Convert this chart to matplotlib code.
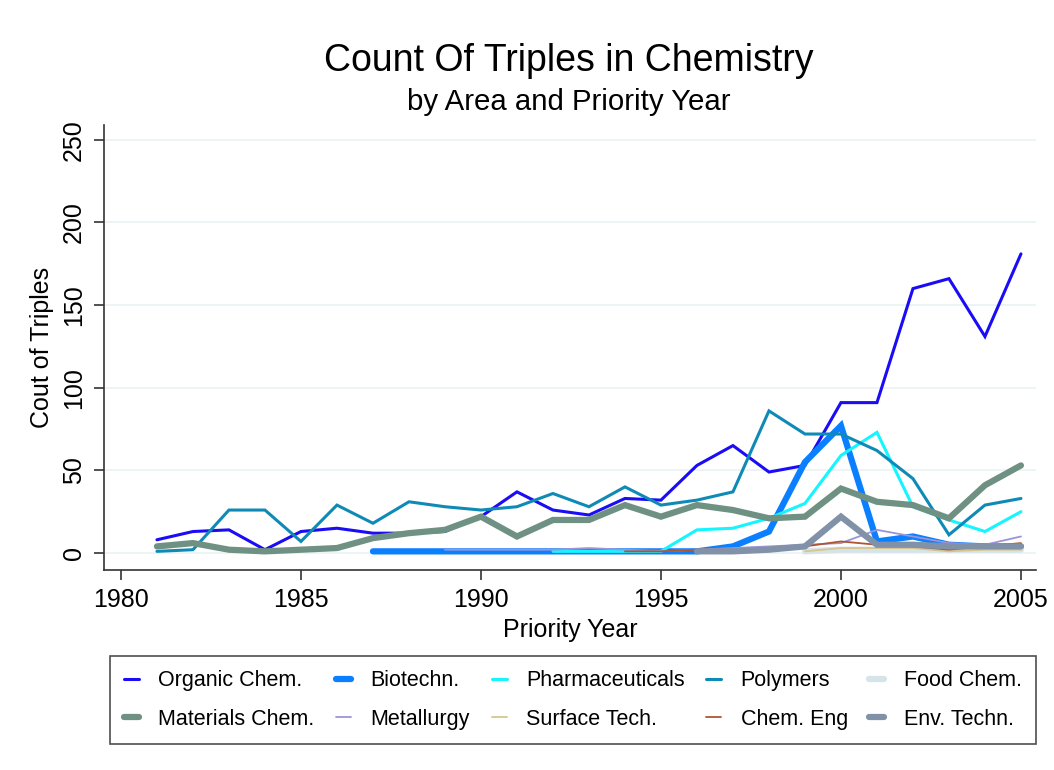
import numpy as np
import matplotlib
matplotlib.use('Agg')
import matplotlib.pyplot as plt

plt.rcParams['font.family'] = ['Liberation Sans', 'DejaVu Sans']

years = list(range(1981, 2006))
nan = np.nan

organic = [8, 13, 14, 2, 13, 15, 12, 12, 13, 22, 37, 26, 23, 33, 32, 53, 65, 49, 53, 91, 91, 160, 166, 131, 181]
biotech = [nan]*6 + [1, 1, 1, 1, 1, 1, 1, 1, 1, 1, 4, 13, 55, 77, 7, 10, 5, 4, 4]
pharma = [nan]*11 + [1, 1, 1, 1, 14, 15, 21, 30, 59, 73, 28, 20, 13, 25]
polymers = [1, 2, 26, 26, 7, 29, 18, 31, 28, 26, 28, 36, 28, 40, 29, 32, 37, 86, 72, 72, 62, 45, 11, 29, 33]
food = [nan]*18 + [1, 2, 2, 2, 2, 2, 2]
materials = [4, 6, 2, 1, 2, 3, 9, 12, 14, 22, 10, 20, 20, 29, 22, 29, 26, 21, 22, 39, 31, 29, 21, 41, 53]
metallurgy = [nan]*8 + [2, 2, 2, 2, 3, 2, 1, 2, 3, 4, 5, 6, 14, 10, 6, 5, 10]
surface = [nan]*18 + [1, 3, 3, 3, 1, 2, 2]
chem_eng = [nan]*13 + [1, 1, 2, 2, 3, 4, 7, 5, 4, 2, 4, 6]
env_tech = [nan]*15 + [1, 1, 2, 4, 22, 5, 5, 4, 4, 4]

series = [
    ("Organic Chem.", organic, "#1a0cf5", 2.2),
    ("Biotechn.", biotech, "#0a7fff", 4.5),
    ("Pharmaceuticals", pharma, "#14f5ff", 2.2),
    ("Polymers", polymers, "#0f8ab6", 2.2),
    ("Food Chem.", food, "#d6e4ea", 4.5),
    ("Materials Chem.", materials, "#6f9183", 4.5),
    ("Metallurgy", metallurgy, "#9d93d8", 1.3),
    ("Surface Tech.", surface, "#d6c68e", 1.3),
    ("Chem. Eng", chem_eng, "#b0552e", 1.3),
    ("Env. Techn.", env_tech, "#8192a8", 4.5),
]

fig = plt.figure(figsize=(10.54, 7.7), dpi=100)
ax = fig.add_axes([0.0987, 0.2597, 0.8843, 0.578])

handles = {}
for name, vals, col, lw in series:
    ln, = ax.plot(years, vals, color=col, lw=lw, solid_capstyle='round',
                  solid_joinstyle='miter', label=name)
    handles[name] = ln

ax.set_xlim(1979.53, 2005.42)
ax.set_ylim(-10.3, 259)
ax.set_xticks(range(1980, 2006, 5))
ax.set_yticks(range(0, 251, 50))
ax.grid(axis='y', color='#eaf2f3', lw=1.2)
ax.set_axisbelow(True)
for s in ['top', 'right']:
    ax.spines[s].set_visible(False)
for s in ['left', 'bottom']:
    ax.spines[s].set_color('#333333')
    ax.spines[s].set_linewidth(1.2)
ax.tick_params(axis='both', direction='out', length=7, width=1.2, color='#333333',
               labelsize=18, pad=6)
for lab in ax.get_yticklabels():
    lab.set_rotation(90)
    lab.set_va('center')
ax.set_xlabel("Priority Year", fontsize=18, labelpad=4)
ax.set_ylabel("Cout of Triples", fontsize=18, labelpad=6)

fig.text(0.54, 0.921, "Count Of Triples in Chemistry", ha='center', va='center', fontsize=27)
fig.text(0.54, 0.867, "by Area and Priority Year", ha='center', va='center', fontsize=21.2)

order = ["Organic Chem.", "Materials Chem.", "Biotechn.", "Metallurgy",
         "Pharmaceuticals", "Surface Tech.", "Polymers", "Chem. Eng",
         "Food Chem.", "Env. Techn."]
leg = fig.legend([handles[n] for n in order], order, ncol=5,
                 loc='center', bbox_to_anchor=(0.5436, 0.0909),
                 fontsize=15.5, frameon=True, fancybox=False,
                 edgecolor='#222222', handlelength=0.7, handletextpad=0.9,
                 columnspacing=1.0, labelspacing=0.8, borderpad=0.65,
                 borderaxespad=0)
leg.get_frame().set_linewidth(1.2)

fig.savefig("out.png", dpi=100)
